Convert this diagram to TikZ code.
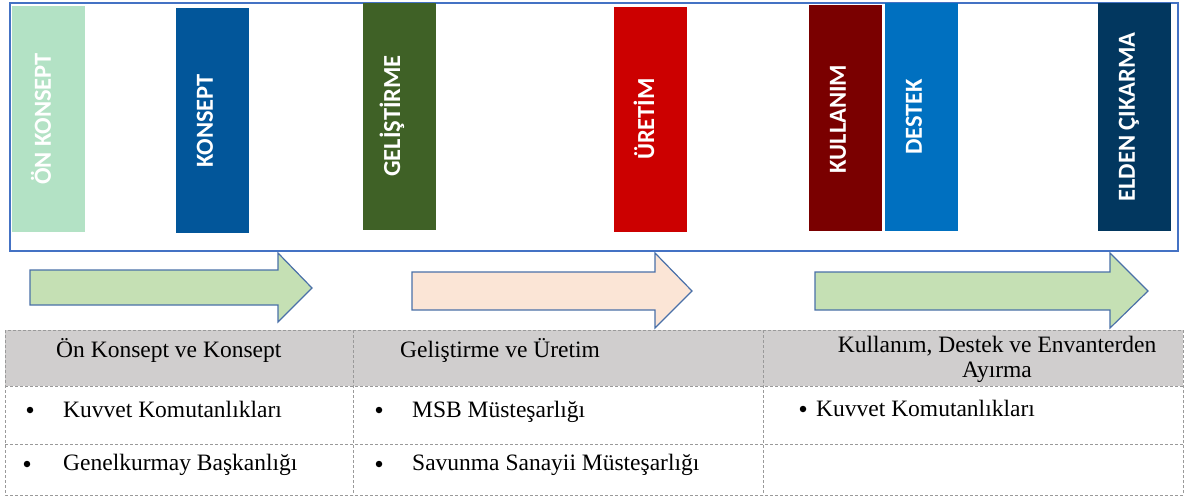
\documentclass[tikz,border=0pt]{standalone}
\usepackage{fontspec}
\setmainfont{Liberation Serif}
\newfontfamily\barfont{Carlito}
\definecolor{frameblue}{HTML}{4472C4}
\definecolor{arrowline}{HTML}{4A70A8}
\definecolor{cOn}{HTML}{B3E2C5}
\definecolor{cKon}{HTML}{02569A}
\definecolor{cGel}{HTML}{3F6126}
\definecolor{cUre}{HTML}{CC0000}
\definecolor{cKul}{HTML}{7A0000}
\definecolor{cDes}{HTML}{0070C0}
\definecolor{cEld}{HTML}{02375F}
\definecolor{agreen}{HTML}{C5E0B4}
\definecolor{apeach}{HTML}{FBE5D6}
\definecolor{hgray}{HTML}{D0CECE}
\definecolor{dashgray}{HTML}{9A9A9A}
\tikzset{
  bar/.style={draw=none, inner sep=0pt, minimum width=73pt},
  bartext/.style={rotate=90, text=white, inner sep=0pt, font=\barfont\bfseries\fontsize{24.5}{27}\selectfont},
  blockarrow/.style={draw=arrowline, line width=1.2pt, line join=miter},
  tabline/.style={draw=dashgray, line width=0.9pt, dash pattern=on 3pt off 2pt},
  ttext/.style={inner sep=0pt, anchor=base west, font=\fontsize{23.5}{27}\selectfont},
  bul/.style={circle, fill=black, inner sep=0pt, minimum size=6.5pt}
}
\begin{document}
\begin{tikzpicture}[x=1pt,y=-1pt]
\useasboundingbox (0,0) rectangle (1185,498);
% top frame
\node[draw=frameblue, line width=1.5pt, inner sep=0pt, minimum width=1168pt, minimum height=248pt] (frame) at (594,127) {};
% bars
\node[bar, fill=cOn, minimum height=226pt] (b1) at (48.5,119) {};
\node[bar, fill=cKon, minimum height=225pt] (b2) at (212.5,120.5) {};
\node[bar, fill=cGel, minimum height=227pt] (b3) at (399.5,116.5) {};
\node[bar, fill=cUre, minimum height=225pt] (b4) at (650.5,119.5) {};
\node[bar, fill=cKul, minimum height=226pt] (b5) at (845,118) {};
\node[bar, fill=cDes, minimum height=228pt] (b6) at (921,117) {};
\node[bar, fill=cEld, minimum height=228pt] (b7) at (1134.5,117) {};
\node[bartext] (t1) at (41,119) {ÖN KONSEPT};
\node[bartext] (t2) at (205,121) {KONSEPT};
\node[bartext] (t3) at (392,116) {GELİŞTİRME};
\node[bartext] (t4) at (644,119) {ÜRETİM};
\node[bartext] (t5) at (838,119) {KULLANIM};
\node[bartext] (t6) at (914,117) {DESTEK};
\node[bartext] (t7) at (1129,117) {ELDEN ÇIKARMA};
% block arrows
\draw[blockarrow, fill=agreen] (30,270) -- (278,270) -- (278,253) -- (312,288) -- (278,322) -- (278,305) -- (30,305) -- cycle;
\draw[blockarrow, fill=apeach] (412,272) -- (655,272) -- (655,253) -- (692,291) -- (655,328) -- (655,310) -- (412,310) -- cycle;
\draw[blockarrow, fill=agreen] (815,272) -- (1110,272) -- (1110,253) -- (1148,291) -- (1110,328) -- (1110,310) -- (815,310) -- cycle;
% table
\fill[hgray] (5,330) rectangle (1183,386);
\draw[tabline] (5,330) rectangle (1183,495);
\draw[tabline] (5,386) -- (1183,386);
\draw[tabline] (5,444) -- (1183,444);
\draw[tabline] (353,330) -- (353,495);
\draw[tabline] (763,330) -- (763,495);
% header texts
\node[ttext] (h1) at (56,357) {Ön Konsept ve Konsept};
\node[ttext] (h2) at (400,357) {Geliştirme ve Üretim};
\node[inner sep=0pt, anchor=base, font=\fontsize{23.5}{27}\selectfont] (h3a) at (997,352) {Kullanım, Destek ve Envanterden};
\node[inner sep=0pt, anchor=base, font=\fontsize{23.5}{27}\selectfont] (h3b) at (997,377) {Ayırma};
% body texts
\node[bul] (d1) at (30,410) {};
\node[ttext] (r1) at (63,417) {Kuvvet Komutanlıkları};
\node[bul] (d2) at (379,410) {};
\node[ttext] (r2) at (412,417) {MSB Müsteşarlığı};
\node[bul] (d3) at (803,409) {};
\node[ttext] (r3) at (816,416) {Kuvvet Komutanlıkları};
\node[bul] (d4) at (27,464) {};
\node[ttext] (r4) at (63,470) {Genelkurmay Başkanlığı};
\node[bul] (d5) at (379,464) {};
\node[ttext] (r5) at (412,470) {Savunma Sanayii Müsteşarlığı};
\end{tikzpicture}
\end{document}
